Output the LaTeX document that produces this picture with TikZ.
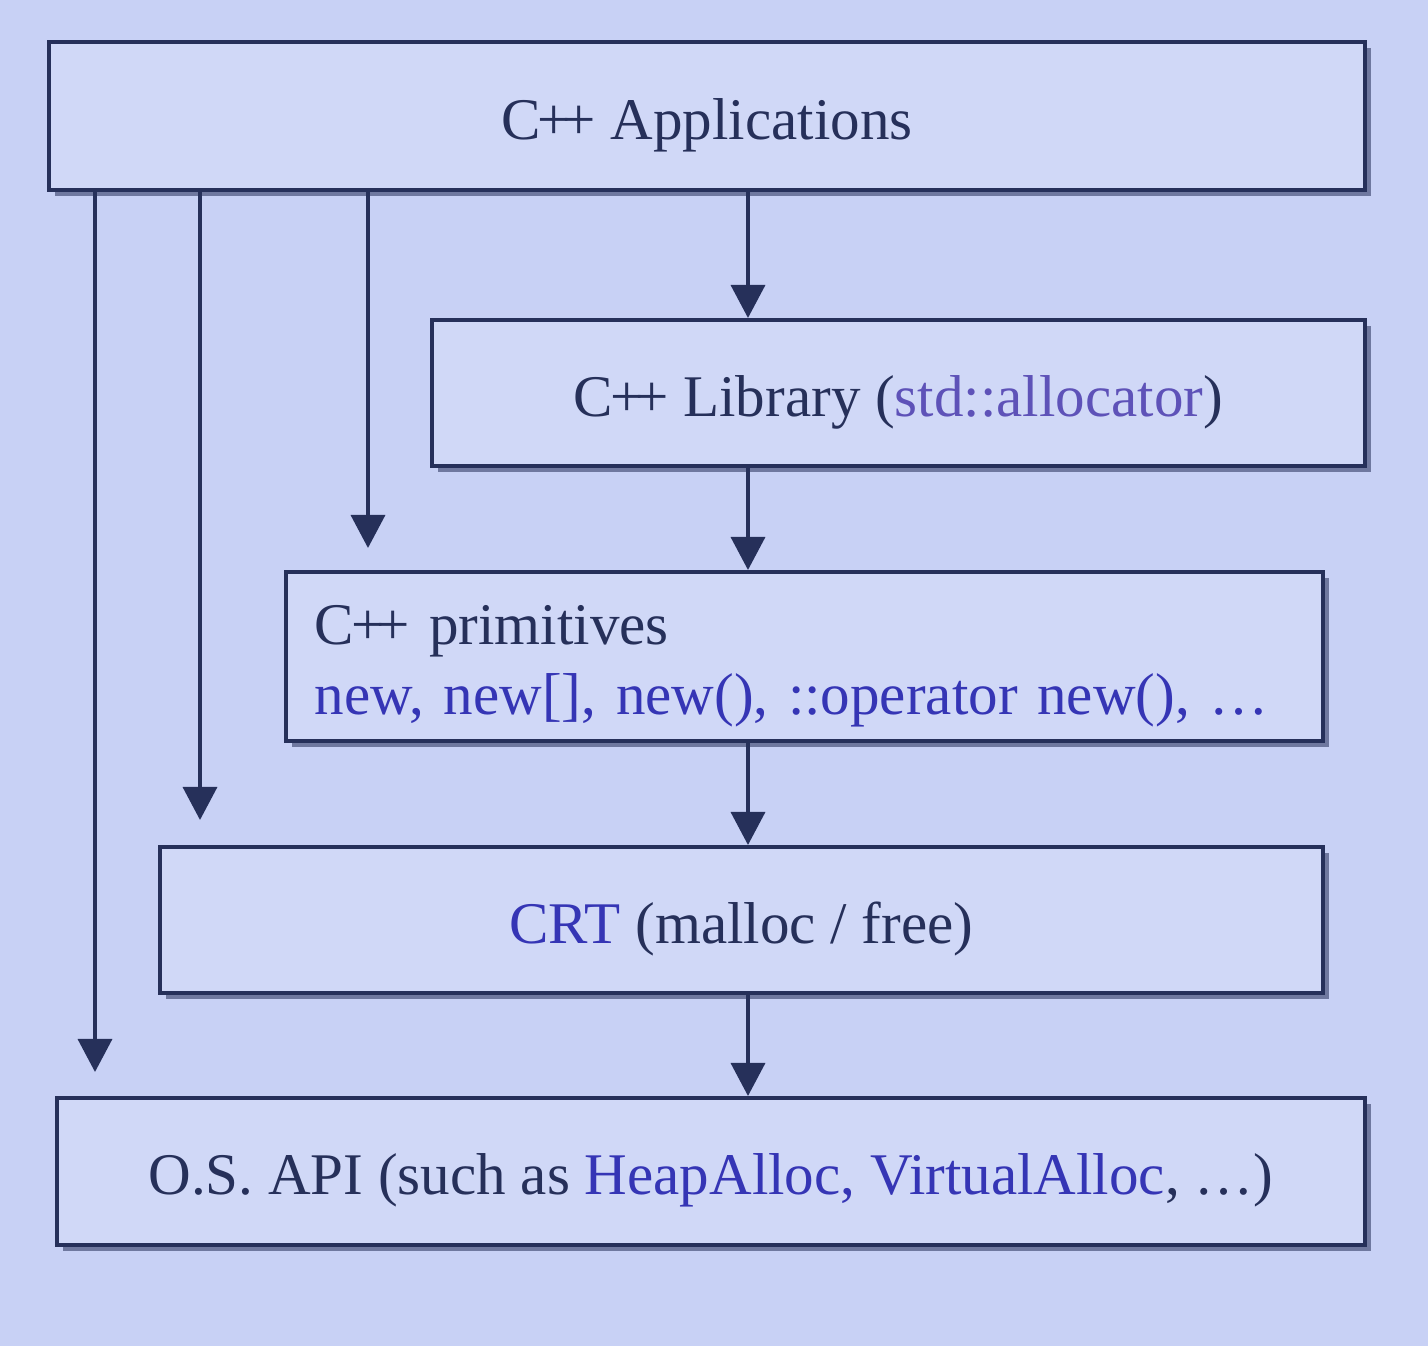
\documentclass[tikz,border=0pt]{standalone}
\usepackage{fontspec}
\setmainfont{Liberation Serif}
\usetikzlibrary{arrows.meta,positioning,shadows}
\definecolor{slidebg}{HTML}{C8D1F5}
\definecolor{boxfill}{HTML}{D0D8F7}
\definecolor{navy}{HTML}{26305A}
\definecolor{codeblue}{HTML}{3535B5}
\definecolor{codepurple}{HTML}{5E52B8}
\newcommand{\cpp}{C\kern-0.05em+\kern-0.14em+}

\begin{document}
\begin{tikzpicture}[
      layer/.style={
        draw=navy,
        line width=1.1pt,
        fill=boxfill,
        anchor=north west,
        align=center,
        minimum height=1.46cm,
        text=navy,
        text height=17pt,
        text depth=3.7pt,
        font=\fontsize{16.8}{20}\selectfont,
        drop shadow={shadow xshift=0.6mm,shadow yshift=-0.6mm,fill=navy,opacity=0.55}
      },
      arr/.style={-{Triangle[width=3.4mm,length=3.3mm]},line width=1pt,draw=navy}
    ]
    \fill[slidebg] (0,0) rectangle (14.28,-13.46);
    \useasboundingbox (0,0) rectangle (14.28,-13.46);
    % the layers
    \node[layer,minimum width=13.16cm,minimum height=1.48cm] (apps) at (0.47,-0.40) {\cpp{} Applications};
    \node[layer,minimum width=9.33cm] (lib) at (4.30,-3.18) {\cpp{} Library (\textcolor{codepurple}{std::allocator})};
    \node[layer,minimum width=10.37cm,minimum height=1.69cm,text width=9.79cm,inner xsep=0.29cm,align=left,
      text depth=23.7pt] (prim) at (2.84,-5.70)
      {\cpp{} primitives\\\textcolor{codeblue}{new, new[], new(), ::operator new(), …}};
    \node[layer,minimum width=11.63cm] (crt) at (1.58,-8.45) {\textcolor{codeblue}{CRT} (malloc / free)};
    \node[layer,minimum width=13.08cm,minimum height=1.47cm] (os) at (0.55,-10.96)
      {O.S. API (such as \textcolor{codeblue}{HeapAlloc, VirtualAlloc}, …)};
    % columns of the arrows
    \coordinate (mid) at (7.48,0);
    \coordinate (toos) at (0.95,0);
    \coordinate (tocrt) at (2.00,0);
    \coordinate (toprim) at (3.68,0);
    \draw[arr] (mid |- apps.south) -- (mid |- lib.north);
    \draw[arr] (mid |- lib.south) -- (mid |- prim.north);
    \draw[arr] (mid |- prim.south) -- (mid |- crt.north);
    \draw[arr] (mid |- crt.south) -- (mid |- os.north);
    \draw[arr,shorten >=0.22cm] (toprim |- apps.south) -- (toprim |- prim.north);
    \draw[arr,shorten >=0.25cm] (tocrt |- apps.south) -- (tocrt |- crt.north);
    \draw[arr,shorten >=0.24cm] (toos |- apps.south) -- (toos |- os.north);
  \end{tikzpicture}
\end{document}
